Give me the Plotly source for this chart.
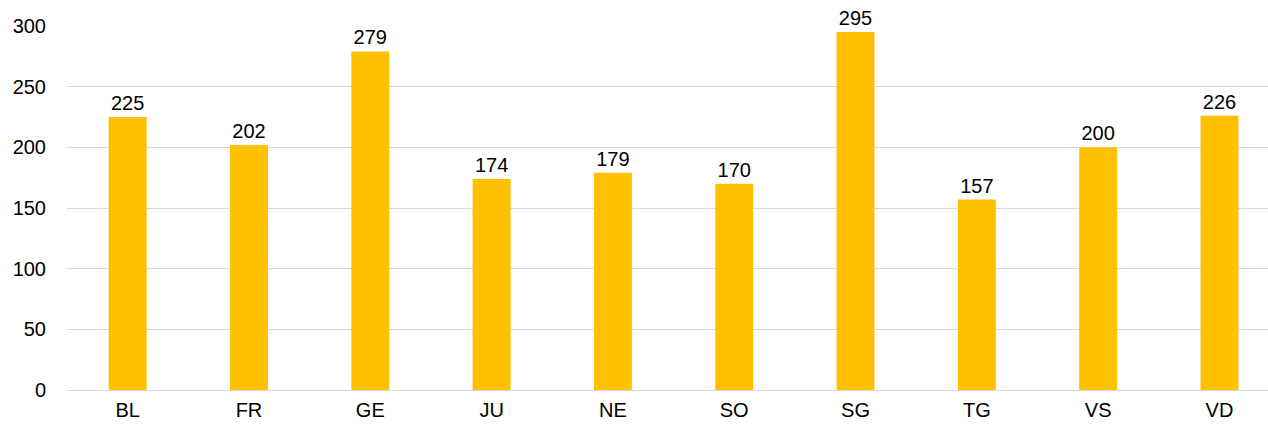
import plotly.graph_objects as go

cantons = ["BL", "FR", "GE", "JU", "NE", "SO", "SG", "TG", "VS", "VD"]
values = [225, 202, 279, 174, 179, 170, 295, 157, 200, 226]
y_ticks = [0, 50, 100, 150, 200, 250, 300]

FONT = "Liberation Sans, Arial, sans-serif"

fig = go.Figure(
    go.Bar(
        x=list(range(len(cantons))),
        y=values,
        marker=dict(color="#FFC000", line=dict(width=0)),
        text=[str(v) for v in values],
        textposition="outside",
        textfont=dict(family=FONT, size=20, color="#000000"),
        cliponaxis=False,
        width=0.313,
    )
)

fig.update_layout(
    width=1268,
    height=426,
    margin=dict(l=67, r=0, t=26, b=36),
    paper_bgcolor="white",
    plot_bgcolor="white",
    showlegend=False,
    font=dict(family=FONT, size=20, color="#000000"),
)

fig.update_xaxes(
    range=[-0.5, 9.4],
    tickvals=list(range(len(cantons))),
    ticktext=cantons,
    showgrid=False,
    showline=False,
    zeroline=False,
    ticks="",
    tickfont=dict(size=20),
    ticklabelstandoff=6,
)

fig.update_yaxes(
    range=[0, 300],
    tickvals=y_ticks,
    showgrid=True,
    gridcolor="#D9D9D9",
    gridwidth=1,
    zeroline=True,
    zerolinecolor="#D9D9D9",
    zerolinewidth=1,
    showline=False,
    ticks="",
    tickfont=dict(size=20),
    ticklabelstandoff=20,
)

fig.write_html("out.html")
